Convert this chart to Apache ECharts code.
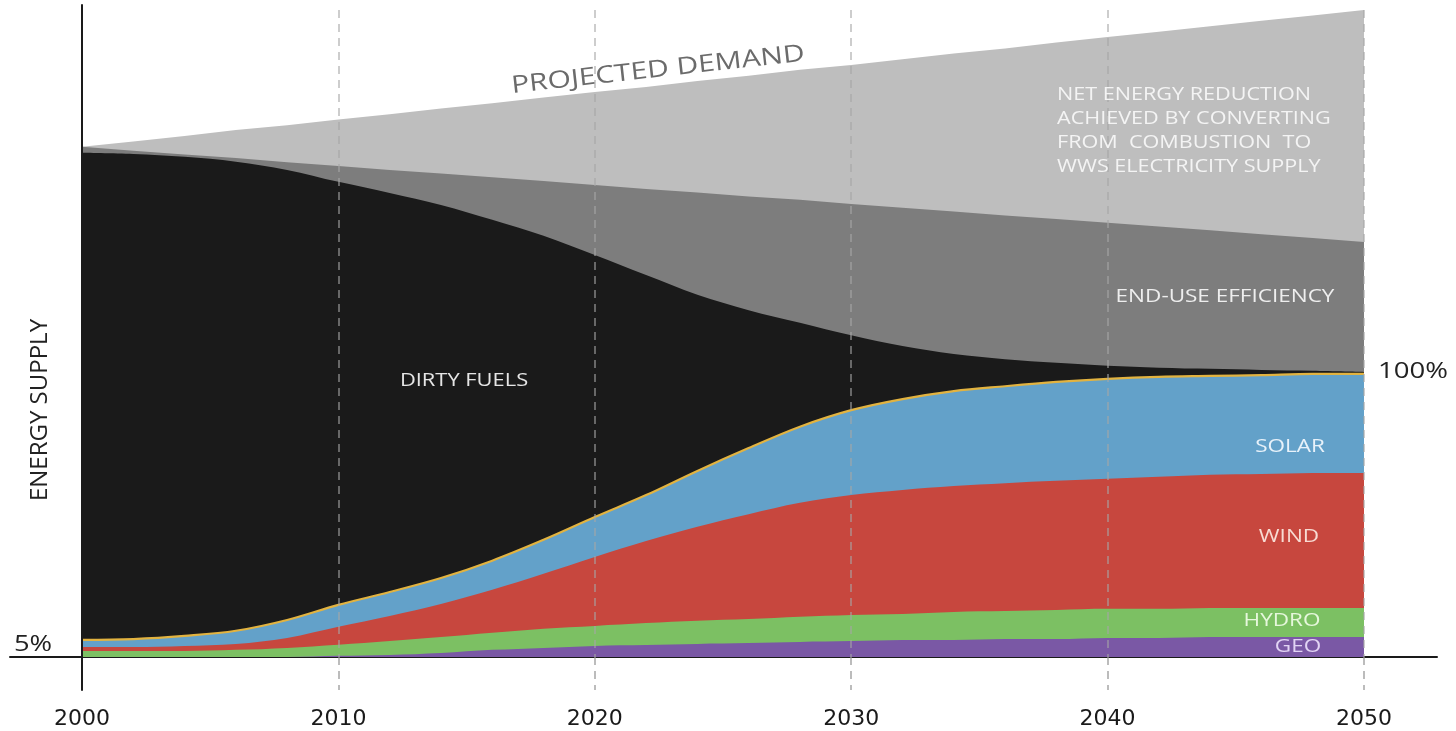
<!DOCTYPE html>
<html>
<head>
<meta charset="utf-8">
<script src="https://cdn.jsdelivr.net/npm/echarts@6/dist/echarts.min.js"></script>
<style>
html,body{margin:0;padding:0;background:#fff;}
#c{width:1456px;height:731px;}
</style>
</head>
<body>
<div id="c"></div>
<script>
// Years sampled along the x axis
const years = [2000, 2002, 2004, 2006, 2008, 2010, 2012, 2014, 2016, 2018, 2020, 2022, 2024, 2026, 2028, 2030, 2032, 2034, 2036, 2038, 2040, 2042, 2044, 2046, 2048, 2050];
// Layer thickness, in % of the 2050 WWS supply (100%)
const geo        = [0, 0, 0, 0, 0, 0.4, 0.7, 1.4, 2.5, 3.2, 3.9, 4.2, 4.6, 4.9, 5.3, 5.6, 6.0, 6.0, 6.3, 6.3, 6.7, 6.7, 7.0, 7.0, 7.0, 7.0];
const hydro      = [2.1, 2.1, 2.1, 2.5, 3.2, 3.9, 4.9, 5.6, 6.0, 6.7, 7.0, 7.7, 8.1, 8.4, 8.8, 9.1, 9.1, 9.8, 9.8, 10.2, 10.2, 10.2, 10.2, 10.2, 10.2, 10.2];
const wind       = [1.4, 1.4, 1.8, 2.1, 3.5, 6.3, 8.8, 11.6, 15.1, 19.3, 24.2, 28.8, 33.0, 36.8, 40.0, 42.1, 43.5, 44.2, 44.9, 45.3, 45.6, 46.3, 46.7, 47.0, 47.4, 47.4];
const solar      = [2.5, 2.8, 3.5, 4.6, 6.3, 7.7, 8.4, 9.1, 10.2, 11.9, 14.0, 16.1, 19.6, 23.2, 26.7, 29.8, 31.9, 33.3, 34.0, 34.7, 35.1, 35.1, 34.7, 34.7, 34.7, 34.7];
const dirty      = [170.9, 170.2, 168.1, 164.6, 157.9, 148.4, 140.0, 130.9, 119.6, 106.7, 91.9, 77.2, 61.8, 48.4, 36.5, 26.3, 18.6, 13.0, 9.5, 6.7, 4.6, 3.2, 2.5, 1.8, 1.1, 0.7];
const efficiency = [2.1, 1.1, 0.8, 1.3, 2.7, 5.6, 8.1, 11.0, 14.9, 19.2, 24.6, 30.2, 35.9, 39.9, 43.1, 46.0, 48.5, 50.0, 50.4, 50.5, 50.2, 49.5, 48.6, 47.6, 46.6, 45.6];
const reduction  = [0, 3.3, 6.5, 9.8, 13.0, 16.3, 19.5, 22.8, 26.0, 29.3, 32.6, 35.8, 39.1, 42.3, 45.6, 48.8, 52.1, 55.4, 58.6, 61.9, 65.1, 68.4, 71.6, 74.9, 78.1, 81.4];
const xTicks = [2000, 2010, 2020, 2030, 2040, 2050];

const FONT = 'Open Sans';
const chart = echarts.init(document.getElementById('c'), null, {renderer: 'canvas'});

// layers bottom -> top
const layers = [
  {name: 'GEO', values: geo, color: '#7a58a5'},
  {name: 'HYDRO', values: hydro, color: '#7cc063'},
  {name: 'WIND', values: wind, color: '#c7473e'},
  {name: 'SOLAR', values: solar, color: '#63a1c9', line: '#e2b340'},
  {name: 'DIRTY FUELS', values: dirty, color: '#1a1a1a'},
  {name: 'END-USE EFFICIENCY', values: efficiency, color: '#7d7d7d', straight: true},
  {name: 'NET ENERGY REDUCTION', values: reduction, color: '#bebebe', straight: true}
];
// running totals so each layer's top edge sits on the one below it
const running = years.map(() => 0);
const seriesBottomUp = layers.map(L => {
  const tops = L.values.map((v, i) => (running[i] += v));
  return {
    name: L.name,
    type: 'line',
    xAxisIndex: 0,
    yAxisIndex: 0,
    smooth: L.straight ? false : 0.35,
    symbol: 'none',
    silent: true,
    lineStyle: L.line ? {width: 2.2, color: L.line} : {width: 0},
    areaStyle: {color: L.color, opacity: 1, origin: 'start'},
    itemStyle: {color: L.color},
    z: 2,
    data: years.map((y, i) => [y, tops[i]])
  };
});
// draw the tallest layer first so lower layers paint over it
const series = seriesBottomUp.slice().reverse();

function label(text, x, y, size, fill, extra) {
  return Object.assign({
    type: 'text', x: x, y: y, scaleX: 1.25, z: 20, silent: true,
    style: {text: text, fontFamily: FONT, fontSize: size, fill: fill, align: 'center', verticalAlign: 'middle'}
  }, extra || {});
}

const option = {
  animation: false,
  backgroundColor: '#ffffff',
  grid: [
    {left: 82, right: 92, top: 10, bottom: 74},
    {left: 82, width: 100, top: 5, bottom: 41},
    {left: 10, right: 19, top: 10, bottom: 74}
  ],
  xAxis: [
    {
      type: 'value', gridIndex: 0, min: 2000, max: 2050, interval: 10, z: 5,
      axisLine: {show: false},
      axisTick: {show: true, length: 33, lineStyle: {color: 'rgba(150,150,150,0.85)', type: [8, 6], width: 1.5}},
      axisLabel: {
        margin: 51, fontFamily: 'DejaVu Sans', fontSize: 22, color: '#1a1a1a',
        customValues: xTicks, formatter: v => String(v)
      },
      splitLine: {show: true, lineStyle: {color: 'rgba(165,165,165,0.75)', type: [8, 6], width: 1.5}}
    },
    {type: 'value', gridIndex: 1, show: false},
    {
      type: 'value', gridIndex: 2, min: 0, max: 1,
      axisLine: {show: true, lineStyle: {color: '#1a1a1a', width: 2}},
      axisTick: {show: false}, axisLabel: {show: false}, splitLine: {show: false}
    }
  ],
  yAxis: [
    {type: 'value', gridIndex: 0, min: 0, max: 227, show: false, splitLine: {show: false}},
    {
      type: 'value', gridIndex: 1, min: 0, max: 1, z: 6,
      axisLine: {show: true, lineStyle: {color: '#1a1a1a', width: 2}},
      axisTick: {show: false}, axisLabel: {show: false}, splitLine: {show: false}
    },
    {type: 'value', gridIndex: 2, show: false}
  ],
  series: series,
  graphic: [
    label('PROJECTED DEMAND', 658, 70, 24, '#6b6b6b', {rotation: 6.3 * Math.PI / 180}),
    label('NET ENERGY REDUCTION\nACHIEVED BY CONVERTING\nFROM  COMBUSTION  TO\nWWS ELECTRICITY SUPPLY', 1057, 131, 18, '#f4f4f4', {scaleX: 1.2}),
    label('END-USE EFFICIENCY', 1225, 297, 18, '#eeeeee'),
    label('DIRTY FUELS', 464, 381, 17.5, '#e6e6e6'),
    label('SOLAR', 1290, 447, 18, '#e8f2fa'),
    label('WIND', 1289, 537, 18, '#f8dcd3'),
    label('HYDRO', 1282, 621, 18, '#e6f7dc'),
    label('GEO', 1298, 647, 18, '#e2d4f4'),
    label('5%', 33, 645, 21, '#222', {scaleX: 1.3}),
    label('100%', 1413, 372, 22, '#222'),
    label('ENERGY SUPPLY', 40, 410, 24, '#222', {scaleX: 1, rotation: Math.PI / 2})
  ]
};
// the multi-line note is left aligned at its left edge
option.graphic[1].style.align = 'left';
option.graphic[1].style.lineHeight = 24;
chart.setOption(option);
</script>
</body>
</html>
